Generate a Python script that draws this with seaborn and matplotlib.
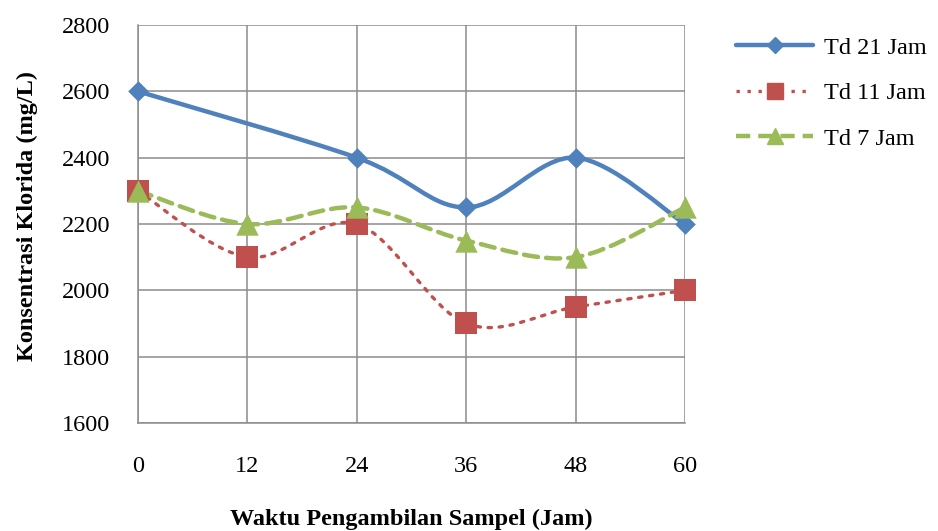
import numpy as np
import pandas as pd
import matplotlib
matplotlib.use("Agg")
import matplotlib.pyplot as plt
from matplotlib.path import Path
from matplotlib.patches import PathPatch
from matplotlib.lines import Line2D
import seaborn as sns

# Data
waktu = ["0", "12", "24", "36", "48", "60"]
td21 = [2600, np.nan, 2400, 2250, 2400, 2200]
td11 = [2300, 2100, 2200, 1900, 1950, 2000]
td7 = [2300, 2200, 2250, 2150, 2100, 2250]
series_names = ["Td 21 Jam", "Td 11 Jam", "Td 7 Jam"]

colors = {"Td 21 Jam": "#4F81BD", "Td 11 Jam": "#C0504D", "Td 7 Jam": "#9BBB59"}
markers = {"Td 21 Jam": "D", "Td 11 Jam": "s", "Td 7 Jam": "^"}
msizes = {"Td 21 Jam": 110, "Td 11 Jam": 260, "Td 7 Jam": 260}
lstyles = {"Td 21 Jam": dict(lw=3.2, ls="-"),
           "Td 11 Jam": dict(lw=2.4, ls=(0, (1, 2.3))),
           "Td 7 Jam": dict(lw=3.2, ls=(0, (3.2, 1.8)))}

rows = []
for name, vals in zip(series_names, [td21, td11, td7]):
    for i, v in enumerate(vals):
        rows.append({"pos": i, "waktu": waktu[i], "nilai": v, "seri": name})
df = pd.DataFrame(rows)


def smooth_path(xs, ys):
    # Excel style smoothed line: Catmull-Rom drawn as cubic Bezier segments
    pts = np.column_stack([xs, ys])
    verts = [tuple(pts[0])]
    codes = [Path.MOVETO]
    n = len(pts)
    for i in range(n - 1):
        p0 = pts[i - 1] if i > 0 else pts[i]
        p1 = pts[i]
        p2 = pts[i + 1]
        p3 = pts[i + 2] if i + 2 < n else pts[i + 1]
        c1 = p1 + (p2 - p0) / 6.0
        c2 = p2 - (p3 - p1) / 6.0
        verts += [tuple(c1), tuple(c2), tuple(p2)]
        codes += [Path.CURVE4] * 3
    return Path(verts, codes)


sns.set_style("white")
plt.rcParams["font.family"] = ["Liberation Serif", "DejaVu Serif"]
plt.rcParams["text.color"] = "black"
plt.rcParams["xtick.color"] = "black"
plt.rcParams["ytick.color"] = "black"
plt.rcParams["axes.labelcolor"] = "black"

FS = 17.5

fig = plt.figure(figsize=(9.38, 5.31), dpi=100)
ax = fig.add_axes([0.1471, 0.2034, 0.5832, 0.7495])

# smoothed lines
for name in series_names:
    sub = df[(df["seri"] == name) & df["nilai"].notna()]
    p = smooth_path(sub["pos"].to_numpy(float), sub["nilai"].to_numpy(float))
    ax.add_patch(PathPatch(p, fill=False, edgecolor=colors[name],
                           capstyle="round", joinstyle="round",
                           linewidth=lstyles[name]["lw"],
                           linestyle=lstyles[name]["ls"], zorder=3))

# markers
for name in series_names:
    sub = df[(df["seri"] == name) & df["nilai"].notna()]
    sns.scatterplot(data=sub, x="pos", y="nilai", ax=ax, marker=markers[name],
                    s=msizes[name], color=colors[name], edgecolor=colors[name],
                    linewidth=0, zorder=4, clip_on=False, legend=False)

ax.set_xlim(0, 5)
ax.set_ylim(1600, 2800)
ax.set_xticks(range(len(waktu)))
ax.set_xticklabels(waktu)
ax.set_yticks(np.arange(1600, 2801, 200))
ax.grid(True, color="#8c8c8c", linewidth=1.1)
ax.set_axisbelow(True)
for s in ["top", "right"]:
    ax.spines[s].set_visible(False)
for s in ["left", "bottom"]:
    ax.spines[s].set_color("#8c8c8c")
    ax.spines[s].set_linewidth(1.1)

ax.tick_params(axis="x", direction="out", length=6, width=1.1, color="#8c8c8c",
               pad=18, labelsize=FS)
ax.tick_params(axis="y", direction="out", length=6, width=1.1, color="#8c8c8c",
               pad=14, labelsize=FS)
ax.set_xlabel("Waktu Pengambilan Sampel (Jam)", fontsize=FS, fontweight="bold")
ax.set_ylabel("Konsentrasi Klorida (mg/L)", fontsize=FS, fontweight="bold")
ax.xaxis.set_label_coords(0.5, -0.215)
ax.yaxis.set_label_coords(-0.183, 0.52)

handles = []
for name in series_names:
    handles.append(Line2D([], [], color=colors[name], marker=markers[name],
                          markersize={"Td 21 Jam": 8, "Td 11 Jam": 12, "Td 7 Jam": 11}[name],
                          linewidth=lstyles[name]["lw"], linestyle=lstyles[name]["ls"]))
fig.legend(handles, series_names, loc="upper left", bbox_to_anchor=(0.761, 0.972),
           frameon=False, fontsize=FS, handlelength=3.2, handletextpad=0.45,
           labelspacing=0.97)

fig.savefig("out.png", dpi=100)
